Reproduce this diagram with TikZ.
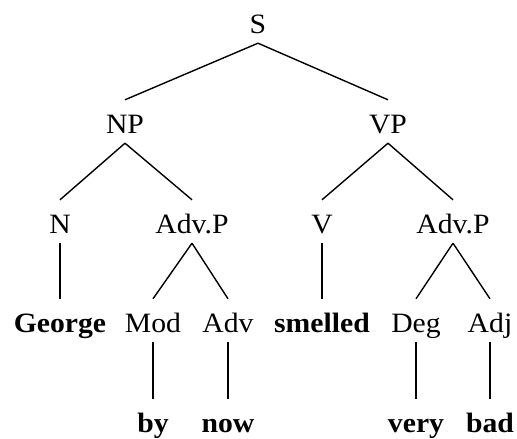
\documentclass[tikz,border=0pt]{standalone}
\usepackage{fontspec}
\setmainfont[FakeStretch=1.06]{Liberation Serif}
\usetikzlibrary{calc}
\tikzstyle{lb}=[anchor=base,inner xsep=2pt,inner ysep=0pt,
  text height=33pt,text depth=10pt,font=\fontsize{28}{30}\selectfont]
\tikzstyle{wd}=[lb,font=\fontsize{28}{30}\selectfont\bfseries]
\tikzstyle{br}=[line width=1.4pt]

\begin{document}
\begin{tikzpicture}[x=1pt,y=-1pt]
        \useasboundingbox (0,0) rectangle (517,439);
        \node[style=lb] (S) at (258,33) {S};
        \node[style=lb] (NP) at (125,133) {NP};
        \node[style=lb] (VP) at (388,133) {VP};
        \node[style=lb] (N) at (60,233) {N};
        \node[style=lb] (ap1) at (192,233) {Adv.P};
        \node[style=lb] (V) at (322,233) {V};
        \node[style=lb] (ap2) at (453,233) {Adv.P};
        \node[style=wd] (george) at (60,332) {George};
        \node[style=lb] (mod) at (153,332) {Mod};
        \node[style=lb] (adv) at (228,332) {Adv};
        \node[style=wd] (smelled) at (322,332) {smelled};
        \node[style=lb] (deg) at (416,332) {Deg};
        \node[style=lb] (adj) at (490,332) {Adj};
        \node[style=wd] (by) at (153,432) {by};
        \node[style=wd] (now) at (228,432) {now};
        \node[style=wd] (very) at (416,432) {very};
        \node[style=wd] (bad) at (490,432) {bad};
        \draw[style=br] (S.south) to (NP.north);
        \draw[style=br] (S.south) to (VP.north);
        \draw[style=br] (NP.south) to (N.north);
        \draw[style=br] (NP.south) to (ap1.north);
        \draw[style=br] (VP.south) to (V.north);
        \draw[style=br] (VP.south) to (ap2.north);
        \draw[style=br] (N.south) to (george.north);
        \draw[style=br] (ap1.south) to (mod.north);
        \draw[style=br] (ap1.south) to (adv.north);
        \draw[style=br] (V.south) to (smelled.north);
        \draw[style=br] (ap2.south) to (deg.north);
        \draw[style=br] (ap2.south) to (adj.north);
        \draw[style=br] (mod.south) to (by.north);
        \draw[style=br] (adv.south) to (now.north);
        \draw[style=br] (deg.south) to (very.north);
        \draw[style=br] (adj.south) to (bad.north);
    \end{tikzpicture}
\end{document}
